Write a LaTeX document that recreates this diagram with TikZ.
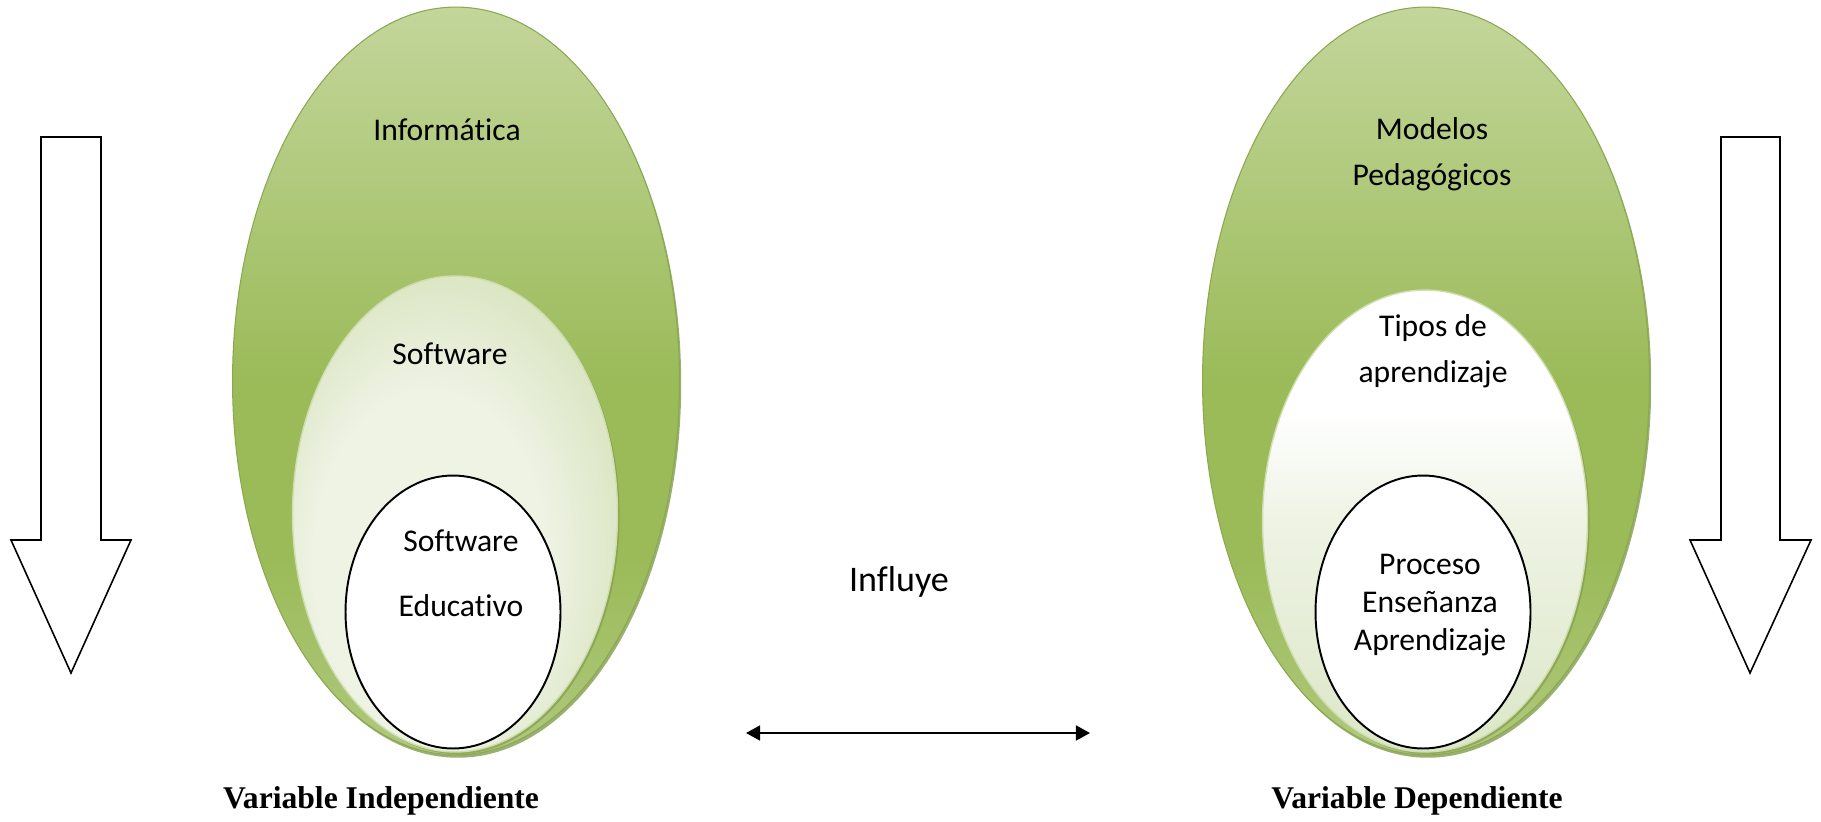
\documentclass[tikz,border=0pt]{standalone}
\usepackage{fontspec}
\setmainfont{Carlito}[Ligatures=NoCommon]
\newfontfamily\timesfont{Liberation Serif}
\usetikzlibrary{shapes.geometric,arrows.meta,shadows}

\definecolor{olivelight}{HTML}{C3D69B}
\definecolor{olivemid}{HTML}{9BBB59}
\definecolor{olivelow}{HTML}{B0C87D}
\definecolor{olivedark}{HTML}{6F8F35}
\definecolor{palegreen}{HTML}{EEF3E4}
\definecolor{sagegreen}{HTML}{D2E0B5}
\definecolor{mistgreen}{HTML}{DCE7C8}

\pgfdeclareverticalshading{greenshade}{100bp}{color(0bp)=(olivelow); color(25bp)=(olivelow); color(38bp)=(olivemid); color(50bp)=(olivemid); color(75bp)=(olivelight); color(100bp)=(olivelight)}
\pgfdeclareradialshading{softshade}{\pgfpoint{-6bp}{-8bp}}{color(0bp)=(palegreen); color(18bp)=(palegreen); color(34bp)=(sagegreen); color(50bp)=(sagegreen)}
\pgfdeclareverticalshading{whiteshade}{100bp}{color(0bp)=(mistgreen); color(25bp)=(mistgreen); color(50bp)=(palegreen); color(62bp)=(white); color(100bp)=(white)}

\begin{document}
\begin{tikzpicture}[
	x=0.02cm, y=-0.02cm,
	big/.style={ellipse, draw=olivemid!90!black, line width=0.6pt, shading=greenshade,
		minimum width=8.94cm, minimum height=14.96cm,
		drop shadow={shadow xshift=1pt, shadow yshift=-1.6pt, fill=olivedark, opacity=0.7}},
	mid/.style={ellipse, draw=olivelight!80!white, line width=0.8pt, minimum width=6.5cm,
		drop shadow={shadow xshift=1.2pt, shadow yshift=-1.2pt, fill=olivemid!80!black, opacity=0.6}},
	core/.style={ellipse, draw=black, line width=1.1pt, fill=white, minimum width=4.3cm, minimum height=5.46cm},
	txt/.style={font=\fontsize{18}{26}\selectfont, align=center, inner sep=0pt},
	varname/.style={font=\timesfont\bfseries\fontsize{18}{22}\selectfont, inner sep=0pt},
	blockarrow/.style={draw=black, line width=0.9pt, fill=white, line join=miter},
	link/.style={{Triangle[length=8pt,width=8.5pt]}-{Triangle[length=8pt,width=8.5pt]}, line width=1.1pt}
	]
	\useasboundingbox (0,0) rectangle (1821,821);

	% block arrows at the sides
	\draw[blockarrow] (41,137) -- (101,137) -- (101,540) -- (131,540) -- (71,673)
		-- (11,540) -- (41,540) -- cycle;
	\draw[blockarrow] (1721,137) -- (1780,137) -- (1780,540) -- (1811,540) -- (1750,673)
		-- (1690,540) -- (1721,540) -- cycle;

	% left group
	\node [big] (info) at (456,381) {};
	\node [mid, minimum height=9.52cm, shading=softshade] (soft) at (455,514) {};
	\node [core] (edu) at (453,612) {};
	\node [txt] (infotxt) at (447,130) {Informát\kern0pt ica};
	\node [txt] (softtxt) at (450,354) {Software};
	\node [txt, font=\fontsize{18}{37}\selectfont] (edutxt) at (461,573) {Software\\Educat\kern0pt ivo};

	% right group
	\node [big] (model) at (1426,381) {};
	\node [mid, minimum height=9.24cm, shading=whiteshade] (tipos) at (1425,521) {};
	\node [core] (proc) at (1423,612) {};
	\node [txt] (modeltxt) at (1432,154) {Modelos\\Pedagógicos};
	\node [txt] (tipostxt) at (1433,351) {Tipos de\\aprendizaje};
	\node [txt, font=\fontsize{18}{21.5}\selectfont] (proctxt) at (1430,605) {Proceso\\Enseñanza\\Aprendizaje};

	% relation
	\node [txt, font=\fontsize{20.5}{24}\selectfont] (influye) at (899,582) {Influye};
	\coordinate (linkl) at (746,733);
	\coordinate (linkr) at (1090,733);
	\draw [link] (linkl) -- (linkr);

	\node [varname] (indep) at (381,801) {Variable Independiente};
	\node [varname] (dep) at (1417,801) {Variable Dependiente};
\end{tikzpicture}
\end{document}
